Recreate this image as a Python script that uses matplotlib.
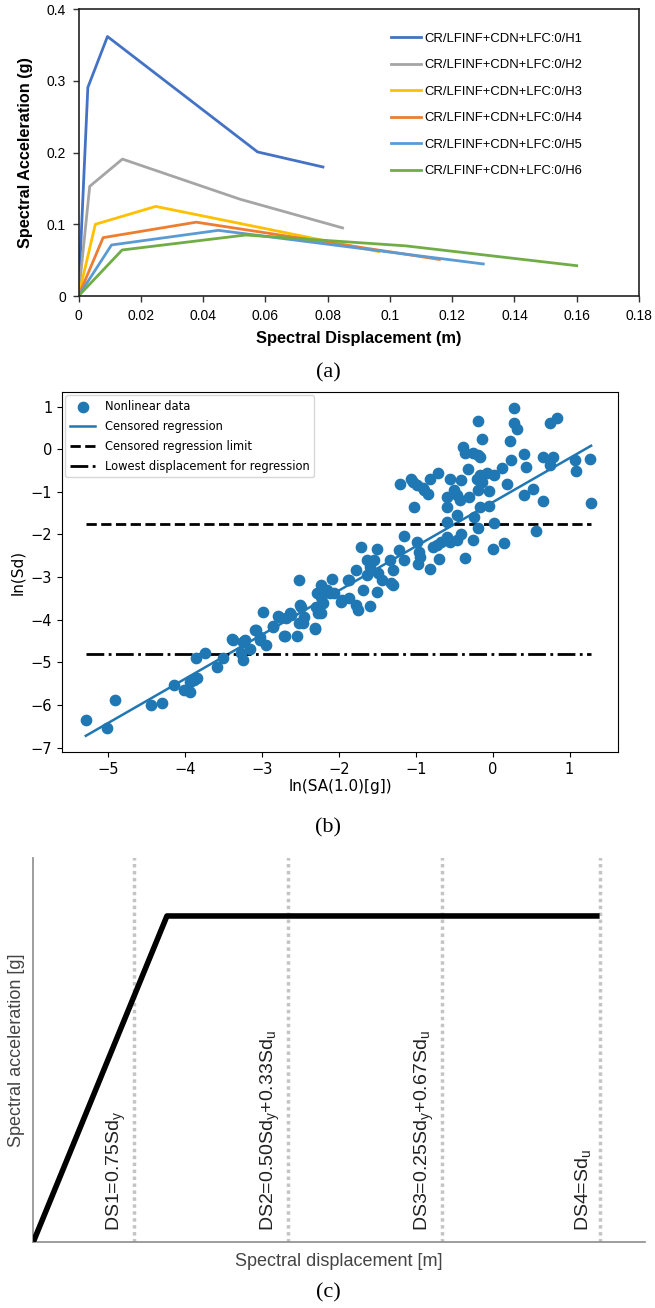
import numpy as np
import matplotlib.pyplot as plt

# ---- panel (a): capacity curves ----
sd_h1 = [0, 0.0030, 0.0093, 0.0575, 0.0785]
sa_h1 = [0, 0.291, 0.362, 0.201, 0.180]
sd_h2 = [0, 0.0036, 0.0141, 0.0519, 0.0848]
sa_h2 = [0, 0.153, 0.191, 0.135, 0.095]
sd_h3 = [0, 0.0054, 0.0248, 0.0964]
sa_h3 = [0, 0.100, 0.125, 0.062]
sd_h4 = [0, 0.0079, 0.0378, 0.1159]
sa_h4 = [0, 0.0814, 0.103, 0.051]
sd_h5 = [0, 0.0106, 0.0449, 0.1300]
sa_h5 = [0, 0.0712, 0.0916, 0.0447]
sd_h6 = [0, 0.0140, 0.0537, 0.1050, 0.1600]
sa_h6 = [0, 0.0642, 0.0851, 0.0700, 0.0423]
curve_names = ["CR/LFINF+CDN+LFC:0/H%d" % i for i in range(1, 7)]
curve_colors = ["#4472C4", "#A5A5A5", "#FFC000", "#ED7D31", "#5B9BD5", "#70AD47"]
xticks_a = [0, 0.02, 0.04, 0.06, 0.08, 0.1, 0.12, 0.14, 0.16, 0.18]
xticklabels_a = ["0", "0.02", "0.04", "0.06", "0.08", "0.1", "0.12", "0.14", "0.16", "0.18"]
yticks_a = [0, 0.1, 0.2, 0.3, 0.4]
yticklabels_a = ["0", "0.1", "0.2", "0.3", "0.4"]

# ---- panel (b): nonlinear data ----
ln_sa = [0.28, -0.19, 0.28, 0.32, -0.14, 0.22, 0.74, 0.84, -0.38, -0.36,
         -0.25, -0.17, 0.41, 0.44, 0.24, 0.65, 0.79, 0.74, 1.07, 1.08,
         1.26, 1.28, -0.32, -0.71, -0.82, -1.21, -1.06, -0.98, -0.89, -0.84,
         -0.55, -0.41, -0.21, -0.07, 0.02, 0.12, 0.19, -0.14, -0.05, -0.19,
         -0.50, -0.60, -0.60, -0.43, -0.31, -0.17, -0.05, 0.41, 0.52, 0.65,
         -1.02, -0.46, -0.59, -0.24, 0.02, -0.19, 0.56, -1.15, -0.41, -0.55,
         -0.67, -0.77, -0.26, 0.00, 0.15, -0.36, -0.98, -0.96, -0.70, -0.97,
         -0.82, -1.71, -1.50, -1.22, -1.15, -1.30, -1.54, -1.59, -1.78, -1.63,
         -1.49, -1.87, -1.68, -1.51, -1.30, -1.44, -2.09, -2.52, -2.23, -2.28,
         -2.16, -2.06, -1.97, -1.87, -1.78, -1.75, -1.60, -2.23, -2.23, -2.30,
         -2.49, -2.45, -2.62, -2.52, -2.69, -2.78, -2.86, -2.99, -2.71, -2.55,
         -2.31, -3.08, -3.02, -2.95, -3.23, -3.38, -3.15, -3.27, -3.25, -3.50,
         -3.59, -3.74, -3.86, -3.84, -3.93, -4.02, -3.93, -4.14, -4.30, -4.44,
         -4.91, -5.29, -5.01, -1.88, -1.96, -2.20, -2.12, -2.27, -2.51, -2.64,
         -2.79, -2.85, -3.09, -2.46, -2.31, -2.70, -3.39, -3.22, -3.03, -0.60,
         -0.47, -0.73, -0.95, -1.64, -1.34, -1.32, -0.19, -0.17, -1.04, -0.91,
         -0.47, -3.89, -3.24]
ln_sd = [0.97, 0.66, 0.62, 0.48, 0.24, 0.18, 0.62, 0.73, 0.04, -0.10,
         -0.10, -0.18, -0.12, -0.41, -0.26, -0.18, -0.18, -0.37, -0.26, -0.51,
         -0.23, -1.27, -0.47, -0.55, -0.69, -0.82, -0.71, -0.84, -0.96, -1.04,
         -0.71, -0.73, -0.69, -0.55, -0.61, -0.45, -0.82, -0.77, -0.98, -0.96,
         -0.96, -1.13, -1.35, -1.19, -1.12, -1.35, -1.33, -1.08, -0.94, -1.21,
         -1.35, -1.55, -1.70, -1.58, -1.74, -1.86, -1.92, -2.04, -1.98, -2.17,
         -2.17, -2.29, -2.13, -2.34, -2.21, -2.56, -2.17, -2.40, -2.58, -2.69,
         -2.82, -2.29, -2.35, -2.37, -2.60, -2.83, -2.60, -2.76, -2.83, -2.95,
         -2.91, -3.07, -3.30, -3.34, -3.18, -3.07, -3.04, -3.07, -3.19, -3.38,
         -3.30, -3.38, -3.58, -3.50, -3.65, -3.77, -3.67, -3.46, -3.85, -3.69,
         -3.69, -3.93, -3.89, -4.08, -3.97, -3.93, -4.16, -3.81, -4.38, -4.38,
         -4.22, -4.24, -4.40, -4.59, -4.50, -4.47, -4.68, -4.79, -4.94, -4.89,
         -5.11, -4.79, -4.90, -5.37, -5.45, -5.64, -5.70, -5.53, -5.96, -6.00,
         -5.89, -6.36, -6.54, -3.06, -3.53, -3.61, -3.37, -3.84, -3.65, -3.84,
         -3.92, -4.14, -4.24, -4.08, -4.20, -4.39, -4.45, -4.47, -4.47, -2.05,
         -2.13, -2.24, -2.52, -2.59, -2.59, -3.14, -0.14, -0.61, -0.77, -0.92,
         -1.08, -5.41, -4.51]
reg_slope = 1.035
reg_intercept = -1.245
censor_limit = -1.75
lowest_disp = -4.8
xticks_b = [-5, -4, -3, -2, -1, 0, 1]
yticks_b = [1, 0, -1, -2, -3, -4, -5, -6, -7]

# ---- panel (c): idealised curve and damage states ----
sdy = 1.0
sdu = 4.24
say = 1.0
ds_labels = [r"DS1=0.75Sd$_\mathregular{y}$",
             r"DS2=0.50Sd$_\mathregular{y}$+0.33Sd$_\mathregular{u}$",
             r"DS3=0.25Sd$_\mathregular{y}$+0.67Sd$_\mathregular{u}$",
             r"DS4=Sd$_\mathregular{u}$"]
ds_values = [0.75, 1.91, 3.06, 4.24]

W, H = 655, 1308
fig = plt.figure(figsize=(W / 100, H / 100), dpi=100)


def box(l, r, t, b):
    return [l / W, 1 - b / H, (r - l) / W, (b - t) / H]


# panel (a)
fa = "Liberation Sans"
axa = fig.add_axes(box(78.5, 639, 9.3, 296))
xa = [sd_h1, sd_h2, sd_h3, sd_h4, sd_h5, sd_h6]
ya = [sa_h1, sa_h2, sa_h3, sa_h4, sa_h5, sa_h6]
for x, y, c, n in zip(xa, ya, curve_colors, curve_names):
    axa.plot(x, y, color=c, lw=2, label=n)
axa.set_xlim(0, 0.18)
axa.set_ylim(0, 0.4)
axa.set_xticks(xticks_a)
axa.set_xticklabels(xticklabels_a, family=fa, fontsize=10)
axa.set_yticks(yticks_a)
axa.set_yticklabels(yticklabels_a, family=fa, fontsize=10)
axa.tick_params(length=4, width=1, color="#333333", pad=5)
for s in axa.spines.values():
    s.set_color("#222222")
    s.set_linewidth(1.2)
axa.set_xlabel("Spectral Displacement (m)", family=fa, fontweight="bold",
               fontsize=11.8, labelpad=6)
axa.set_ylabel("Spectral Acceleration (g)", family=fa, fontweight="bold",
               fontsize=11.7, labelpad=10)
axa.legend(loc="upper left", frameon=False, prop={"family": fa, "size": 9.4},
           handlelength=2.35, handletextpad=0.2, labelspacing=1.1,
           borderpad=0, borderaxespad=0, bbox_to_anchor=(0.557, 0.918))

# panel (b)
axb = fig.add_axes(box(62, 618, 392, 752))
axb.scatter(ln_sa, ln_sd, s=55, color="#1f77b4", label="Nonlinear data", zorder=3)
xr = np.array([min(ln_sa), max(ln_sa)])
axb.plot(xr, reg_intercept + reg_slope * xr, color="#1f77b4", lw=1.8,
         label="Censored regression", zorder=2)
axb.plot(xr, [censor_limit, censor_limit], "k--", lw=2,
         label="Censored regression limit")
axb.plot(xr, [lowest_disp, lowest_disp], "k-.", lw=2,
         label="Lowest displacement for regression")
axb.set_xlim(-5.6, 1.63)
axb.set_ylim(-7.1, 1.34)
axb.set_xticks(xticks_b)
axb.set_xticklabels(["\u22125", "\u22124", "\u22123", "\u22122", "\u22121", "0", "1"])
axb.set_yticks(yticks_b)
axb.set_yticklabels(["1", "0", "\u22121", "\u22122", "\u22123", "\u22124",
                     "\u22125", "\u22126", "\u22127"])
axb.tick_params(labelsize=10.5)
axb.set_xlabel("ln(SA(1.0)[g])", fontsize=11, labelpad=2)
axb.set_ylabel("ln(Sd)", fontsize=11)
axb.legend(loc="upper left", fontsize=8.3, borderaxespad=0.3, handlelength=2.2,
           labelspacing=0.6)

# panel (c)
axc = fig.add_axes(box(33.4, 645, 858, 1241.7))
axc.plot([0, sdy, sdu], [0, say, say], color="black", lw=4, solid_capstyle="butt",
         zorder=3)
for v, lab in zip(ds_values, ds_labels):
    axc.plot([v, v], [0, 1.2], color="#c4c4c4", lw=2.5, ls=(0, (1, 1)), zorder=2)
    axc.annotate(lab, xy=(v, 0), xytext=(-6, 11), textcoords="offset pixels",
                 rotation=90, ha="right", va="bottom", fontsize=14,
                 family="Liberation Sans", color="#222222")
axc.set_xlim(0, 4.58)
axc.set_ylim(0, 1.178)
axc.set_xticks([])
axc.set_yticks([])
axc.spines["top"].set_visible(False)
axc.spines["right"].set_visible(False)
for s in ["left", "bottom"]:
    axc.spines[s].set_color("#8c8c8c")
    axc.spines[s].set_linewidth(1.2)
axc.set_xlabel("Spectral displacement [m]", family="Liberation Sans",
               fontsize=13, color="#444444", labelpad=8)
axc.set_ylabel("Spectral acceleration [g]", family="Liberation Sans",
               fontsize=13, color="#444444", labelpad=6)

# captions
for lab, y in [("(a)", 373), ("(b)", 828), ("(c)", 1293)]:
    fig.text(328 / W, 1 - y / H, lab, family="Liberation Serif", fontsize=16,
             ha="center", va="center")

fig.savefig("out.png", dpi=100)
